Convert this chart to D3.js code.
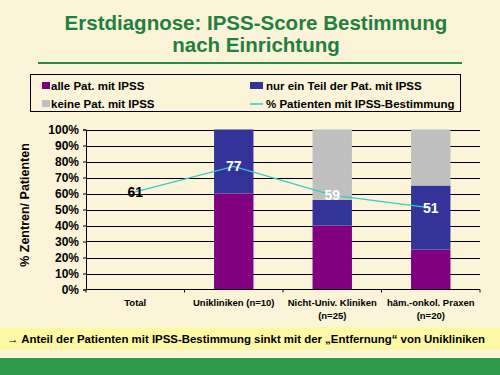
<!DOCTYPE html>
<html>
<head>
<meta charset="utf-8">
<script src="https://cdn.jsdelivr.net/npm/d3@7"></script>
<style>
body { margin: 0; background: #fbf4d8; }
svg { display: block; font-family: Arial, "Liberation Sans", sans-serif; }
</style>
</head>
<body>
<script>
var categories = ['Total', 'Unikliniken (n=10)', 'Nicht-Univ. Kliniken|(n=25)', 'häm.-onkol. Praxen|(n=20)'];
var alle = [null, 60, 40, 25];
var teil = [null, 40, 16, 40];
var keine = [null, 0, 44, 35];
var prozent = [61, 77, 59, 51];
var yTicks = [0, 10, 20, 30, 40, 50, 60, 70, 80, 90, 100];

var width = 500, height = 375;
var colors = { alle: '#800080', teil: '#333399', keine: '#c0c0c0', line: '#33cccc' };

var svg = d3.select('body').append('svg')
    .attr('width', width)
    .attr('height', height);

svg.append('rect').attr('width', width).attr('height', height).attr('fill', '#fbf4d8');

// title
svg.append('text')
    .attr('x', 256).attr('y', 30)
    .attr('text-anchor', 'middle')
    .style('font-size', '20.5px').style('font-weight', 'bold')
    .attr('fill', '#1f8040')
    .text('Erstdiagnose: IPSS-Score Bestimmung');
svg.append('text')
    .attr('x', 256).attr('y', 52)
    .attr('text-anchor', 'middle')
    .style('font-size', '20.5px').style('font-weight', 'bold')
    .attr('fill', '#1f8040')
    .text('nach Einrichtung');
svg.append('line')
    .attr('x1', 38).attr('x2', 462).attr('y1', 63).attr('y2', 63)
    .attr('stroke', '#2a8a45').attr('stroke-width', 2);

// legend
svg.append('rect')
    .attr('x', 30.5).attr('y', 74.5).attr('width', 430).attr('height', 37)
    .attr('fill', 'none').attr('stroke', '#000');

var legend = [
    { label: 'alle Pat. mit IPSS', color: colors.alle, x: 42, y: 86 },
    { label: 'nur ein Teil der Pat. mit IPSS', color: colors.teil, x: 250, y: 86 },
    { label: 'keine Pat. mit IPSS', color: colors.keine, x: 42, y: 104 },
    { label: '% Patienten mit IPSS-Bestimmung', color: colors.line, x: 250, y: 104, line: true }
];
var lg = svg.selectAll('g.legend').data(legend).enter().append('g').attr('class', 'legend');
lg.filter(function (d) { return !d.line; }).append('rect')
    .attr('x', function (d) { return d.x; })
    .attr('y', function (d) { return d.y - 4; })
    .attr('width', function (d) { return d.x > 200 ? 13 : 8; })
    .attr('height', 7)
    .attr('fill', function (d) { return d.color; });
lg.filter(function (d) { return d.line; }).append('line')
    .attr('x1', function (d) { return d.x; })
    .attr('x2', function (d) { return d.x + 13; })
    .attr('y1', function (d) { return d.y; })
    .attr('y2', function (d) { return d.y; })
    .attr('stroke', function (d) { return d.color; }).attr('stroke-width', 1.5);
lg.append('text')
    .attr('x', function (d) { return d.x + (d.x > 200 ? 16 : 9); })
    .attr('y', function (d) { return d.y + 4; })
    .style('font-size', '11.5px').style('font-weight', 'bold')
    .text(function (d) { return d.label; });

// plot
var plotL = 86, plotR = 480, plotT = 129.5, plotB = 289.5;
var x = d3.scaleBand().domain(categories).range([plotL, plotR]).paddingInner(0.6).paddingOuter(0.3);
var xb = d3.scaleBand().domain(categories).range([plotL, plotR]);
var y = d3.scaleLinear().domain([0, 100]).range([plotB, plotT]);

svg.append('g').selectAll('line').data(yTicks.slice(1)).enter().append('line')
    .attr('x1', plotL).attr('x2', plotR)
    .attr('y1', function (d) { return Math.round(y(d)) + 0.5; })
    .attr('y2', function (d) { return Math.round(y(d)) + 0.5; })
    .attr('stroke', '#000').attr('stroke-width', 1);

var stackData = categories.map(function (c, i) {
    return { cat: c, alle: alle[i], teil: teil[i], keine: keine[i] };
}).filter(function (d) { return d.alle !== null; });
var series = d3.stack().keys(['alle', 'teil', 'keine'])(stackData);

svg.append('g').selectAll('g').data(series).enter().append('g')
    .attr('fill', function (s) { return colors[s.key]; })
    .selectAll('rect').data(function (s) { return s; }).enter().append('rect')
    .attr('x', function (d) { return x(d.data.cat); })
    .attr('width', x.bandwidth())
    .attr('y', function (d) { return y(d[1]); })
    .attr('height', function (d) { return y(d[0]) - y(d[1]); });

// axes
var yAxis = svg.append('g').attr('transform', 'translate(' + plotL + ',0)')
    .call(d3.axisLeft(y).tickValues(yTicks).tickSize(3).tickFormat(function (d) { return d + '%'; }));
yAxis.selectAll('text').style('font-size', '12px').style('font-weight', 'bold').attr('fill', '#000').attr('dx', '-1')
    .style('font-family', 'Arial, "Liberation Sans", sans-serif');
yAxis.select('.domain').attr('stroke', '#000');
yAxis.selectAll('line').attr('stroke', '#000');

svg.append('line').attr('x1', plotL).attr('x2', plotR).attr('y1', plotB).attr('y2', plotB).attr('stroke', '#000');
svg.append('g').selectAll('line').data(categories.concat(['end'])).enter().append('line')
    .attr('x1', function (d, i) { return plotL + i * xb.bandwidth(); })
    .attr('x2', function (d, i) { return plotL + i * xb.bandwidth(); })
    .attr('y1', plotB).attr('y2', plotB + 3)
    .attr('stroke', '#000');

var xl = svg.append('g').selectAll('text').data(categories).enter().append('text')
    .attr('x', function (d) { return xb(d) + xb.bandwidth() / 2; })
    .attr('y', 306)
    .attr('text-anchor', 'middle')
    .style('font-size', '9.5px').style('font-weight', 'bold');
xl.selectAll('tspan').data(function (d) { return d.split('|'); }).enter().append('tspan')
    .attr('x', function () { var p = this.parentNode.__data__; return xb(p) + xb.bandwidth() / 2; })
    .attr('dy', function (d, i) { return i ? 13 : 0; })
    .text(function (d) { return d; });

svg.append('text')
    .attr('transform', 'translate(29,205) rotate(-90)')
    .attr('text-anchor', 'middle')
    .style('font-size', '12.5px').style('font-weight', 'bold')
    .text('% Zentren/ Patienten');

// line
var line = d3.line()
    .x(function (d, i) { return xb(categories[i]) + xb.bandwidth() / 2; })
    .y(function (d) { return y(d); });
svg.append('path').datum(prozent)
    .attr('d', line)
    .attr('fill', 'none').attr('stroke', colors.line).attr('stroke-width', 1.2);
svg.append('g').selectAll('text').data(prozent).enter().append('text')
    .attr('x', function (d, i) { return xb(categories[i]) + xb.bandwidth() / 2; })
    .attr('y', function (d) { return y(d) + 5; })
    .attr('text-anchor', 'middle')
    .style('font-size', '14px').style('font-weight', 'bold')
    .attr('fill', function (d, i) { return i === 0 ? '#000' : '#fff'; })
    .text(function (d) { return d; });

// footer
svg.append('rect').attr('x', 0).attr('y', 327).attr('width', width).attr('height', 23).attr('fill', '#fdf8a6');
svg.append('text')
    .attr('x', 7).attr('y', 343)
    .attr('textLength', 478).attr('lengthAdjust', 'spacingAndGlyphs')
    .style('font-size', '11.5px').style('font-weight', 'bold')
    .text('→ Anteil der Patienten mit IPSS-Bestimmung sinkt mit der „Entfernung“ von Unikliniken');
svg.append('rect').attr('x', 0).attr('y', 358).attr('width', width).attr('height', 17).attr('fill', '#2e9b4c');
</script>
</body>
</html>
